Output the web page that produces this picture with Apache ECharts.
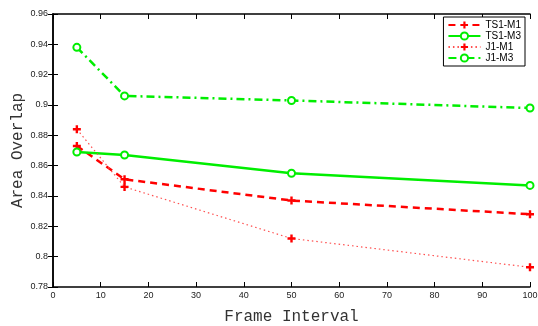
<!DOCTYPE html>
<html>
<head>
<meta charset="utf-8">
<script src="https://cdn.jsdelivr.net/npm/echarts@6/dist/echarts.min.js"></script>
<style>
  html, body { margin: 0; padding: 0; background: #fff; }
  #chart { width: 538px; height: 326px; }
</style>
</head>
<body>
<div id="chart"></div>
<script>
var chartDom = document.getElementById('chart');
var myChart = echarts.init(chartDom);
var option;

// frame intervals on the x axis
var frameIntervals = [5, 15, 50, 100];
var seriesNames = ['TS1-M1', 'TS1-M3', 'J1-M1', 'J1-M3'];
var ts1M1 = [0.873, 0.851, 0.837, 0.828];
var ts1M3 = [0.869, 0.867, 0.855, 0.847];
var j1M1 = [0.884, 0.846, 0.812, 0.793];
var j1M3 = [0.938, 0.906, 0.903, 0.898];

var plusSymbol = 'path://M3.5,0H6.5V3.5H10V6.5H6.5V10H3.5V6.5H0V3.5H3.5Z';
var red = '#ff0000';
var green = '#00ee00';

function pairs(ys) {
   return frameIntervals.map(function (x, i) { return [x, ys[i]]; });
}

var tickFont = { fontSize: 9, color: '#222', fontFamily: 'Liberation Sans' };

option = {
   animation: false,
   grid: { left: 53, right: 8, top: 14, bottom: 39, outerBoundsMode: 'none', containLabel: false },
   legend: {
      orient: 'vertical',
      right: 13,
      top: 17,
      backgroundColor: '#fff',
      borderColor: '#000',
      borderWidth: 1,
      padding: [3, 4, 3, 4],
      itemGap: 1,
      itemWidth: 32,
      itemHeight: 9,
      textStyle: { fontSize: 10, color: '#000', fontFamily: 'Liberation Sans' },
      data: seriesNames
   },
   xAxis: [
      {
         type: 'value', min: 0, max: 100, interval: 10,
         name: 'Frame Interval', nameLocation: 'middle', nameGap: 22,
         nameTextStyle: { fontFamily: 'Liberation Mono', fontSize: 16, color: '#333' },
         axisLine: { lineStyle: { color: '#000', width: 1.5 } },
         axisTick: { inside: true, length: 5, lineStyle: { color: '#000' } },
         axisLabel: Object.assign({ margin: 4 }, tickFont),
         splitLine: { show: false }
      },
      {
         type: 'value', min: 0, max: 100, interval: 10, position: 'top',
         axisLine: { lineStyle: { color: '#000', width: 1.5 } },
         axisTick: { inside: true, length: 5, lineStyle: { color: '#000' } },
         axisLabel: { show: false },
         splitLine: { show: false }
      }
   ],
   yAxis: [
      {
         type: 'value', min: 0.78, max: 0.96, interval: 0.02,
         name: 'Area Overlap', nameLocation: 'middle', nameGap: 27,
         nameMoveOverlap: false,
         nameTextStyle: { fontFamily: 'Liberation Mono', fontSize: 16, color: '#333' },
         axisLine: { show: true, lineStyle: { color: '#000', width: 1.5 } },
         axisTick: { show: true, inside: true, length: 5, lineStyle: { color: '#000' } },
         axisLabel: Object.assign({
            margin: 5,
            formatter: function (v) { return String(parseFloat(v.toFixed(2))); }
         }, tickFont),
         splitLine: { show: false }
      },
      {
         type: 'value', min: 0.78, max: 0.96, interval: 0.02, position: 'right',
         axisLine: { show: true, lineStyle: { color: '#000', width: 1.5 } },
         axisTick: { show: true, inside: true, length: 5, lineStyle: { color: '#000' } },
         axisLabel: { show: false },
         splitLine: { show: false }
      }
   ],
   series: [
      {
         name: 'TS1-M1', type: 'line', data: pairs(ts1M1),
         symbol: plusSymbol, symbolSize: 8,
         lineStyle: { type: [7, 5], width: 2.5, color: red },
         itemStyle: { color: red }
      },
      {
         name: 'TS1-M3', type: 'line', data: pairs(ts1M3),
         symbol: 'emptyCircle', symbolSize: 7,
         lineStyle: { type: 'solid', width: 2.5, color: green },
         itemStyle: { color: green, borderColor: green, borderWidth: 2 }
      },
      {
         name: 'J1-M1', type: 'line', data: pairs(j1M1),
         symbol: plusSymbol, symbolSize: 8,
         lineStyle: { type: [1.5, 3], width: 1.2, color: '#ff5050' },
         itemStyle: { color: red }
      },
      {
         name: 'J1-M3', type: 'line', data: pairs(j1M3),
         symbol: 'emptyCircle', symbolSize: 7,
         lineStyle: { type: [8, 4, 2, 4], width: 2.5, color: green },
         itemStyle: { color: green, borderColor: green, borderWidth: 2 }
      }
   ]
};

myChart.setOption(option);
</script>
</body>
</html>
